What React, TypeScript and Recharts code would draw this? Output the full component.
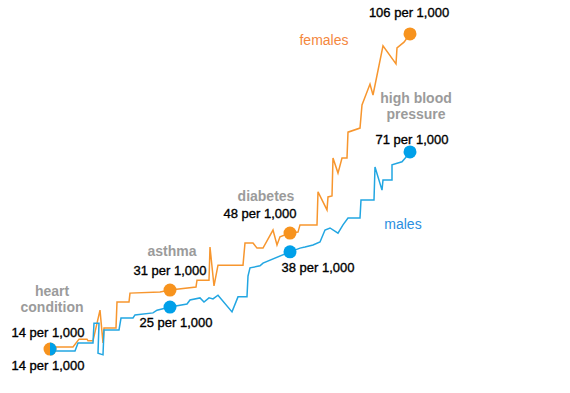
import { LineChart, Line, XAxis, YAxis } from 'recharts';

// age (years) vs rate per 1,000
const femalePath: [number, number][] = [
  [0, 13.8], [0.3, 14.4], [1.15, 14.4], [1.45, 16.7], [1.85, 16.7], [1.9, 16.2], [2.15, 16.2],
  [2.5, 25.2], [2.65, 15.6], [2.7, 20.0], [3.3, 20.0], [3.35, 27.6], [3.95, 27.6], [4.0, 30.2],
  [5.5, 30.5], [6, 31.1], [7.3, 32.0], [7.35, 34.0], [7.95, 34.0], [8.0, 43.7], [8.2, 32.3],
  [8.4, 38.4], [9.65, 38.4], [9.75, 44.9], [10.15, 44.9], [10.35, 43.4], [10.65, 43.4],
  [11.15, 48.7], [11.35, 44.3], [11.5, 46.7], [12, 47.8], [12.4, 48.1], [12.5, 50.2],
  [13.35, 50.2], [13.4, 59.9], [13.85, 54.6], [13.9, 58.4], [14.1, 58.7], [14.15, 69.8],
  [14.4, 65.4], [14.6, 69.8], [14.85, 69.8], [14.9, 77.4], [15.5, 78.6], [15.6, 85.4],
  [16.0, 91.5], [16.15, 88.3], [16.65, 102.7], [17.3, 97.4], [17.35, 102.1], [17.7, 103.8],
  [18, 106.2],
];

const malePath: [number, number][] = [
  [0, 13.8], [0.3, 13.2], [1.25, 13.2], [1.4, 15.6], [2.15, 15.6], [2.2, 21.4], [2.45, 21.4],
  [2.4, 12.6], [2.65, 12.1], [2.7, 19.4], [3.45, 19.4], [3.55, 22.9], [4.15, 22.9], [4.25, 23.8],
  [5.15, 24.4], [5.35, 25.2], [6, 26.1], [6.85, 27.0], [7.0, 28.2], [7.5, 28.8], [7.7, 27.6],
  [7.95, 28.8], [8.15, 28.5], [8.4, 29.6], [9.1, 24.7], [9.4, 29.1], [9.85, 29.1], [9.9, 35.2],
  [10.0, 37.6], [10.5, 38.2], [10.65, 39.0], [12, 42.3], [12.5, 43.4], [12.75, 43.7],
  [13.15, 44.3], [13.5, 45.2], [13.75, 48.7], [14.0, 49.3], [14.4, 47.8], [14.65, 50.2],
  [14.9, 52.2], [15.5, 52.2], [15.55, 57.5], [16.2, 57.5], [16.25, 67.2], [16.6, 60.4],
  [16.65, 63.4], [17.1, 63.4], [17.1, 67.8], [17.6, 68.7], [17.85, 70.4], [18, 71.6],
];

const conditionAges = [0, 6, 12, 18];
const conditionNames = [['heart', 'condition'], ['asthma'], ['diabetes'], ['high blood', 'pressure']];
const femaleLabels = ['14 per 1,000', '31 per 1,000', '48 per 1,000', '106 per 1,000'];
const maleLabels = ['14 per 1,000', '25 per 1,000', '38 per 1,000', '71 per 1,000'];

const femaleData = femalePath.map(([age, rate]) => ({ age, rate }));
const maleData = malePath.map(([age, rate]) => ({ age, rate }));

const ORANGE = '#F7962E';
const BLUE = '#22A6E2';
const FONT = '"Liberation Sans", Arial, sans-serif';

// label offsets from each dot: [dx, dy] of the text baseline
const femaleOffsets = [[-2, -12], [0, -15], [-30, -15], [-1, -17]];
const maleOffsets = [[-2, 21], [6, 20], [28, 20], [2, -8]];
// condition name offsets, first line; relative to female dot, last one to male dot
const nameOffsets = [[2, -53], [2, -34], [-24, -32], [6, -49]];

const numText = (x: number, y: number, t: string, k: string) => (
  <text
    key={k}
    x={x}
    y={y}
    textAnchor="middle"
    fontFamily={FONT}
    fontSize={13}
    fill="#000"
    stroke="#000"
    strokeWidth={0.35}
  >
    {t}
  </text>
);

const nameText = (x: number, y: number, lines: string[], k: string) => (
  <text key={k} textAnchor="middle" fontFamily={FONT} fontSize={14} fontWeight="bold" fill="#9b9b9b">
    {lines.map((l, i) => (
      <tspan key={i} x={x} y={y + i * 16}>{l}</tspan>
    ))}
  </text>
);

const makeDot = (series: 'f' | 'm') => (props: any) => {
  const { cx, cy, index, payload } = props;
  const i = conditionAges.indexOf(payload.age);
  if (i < 0 || cx == null) return <g key={`${series}-${index}`} />;
  const r = 6.5;
  const parts: any[] = [];
  if (series === 'f') {
    parts.push(<circle key="c" cx={cx} cy={cy} r={r} fill="#F7931E" />);
    const [dx, dy] = femaleOffsets[i];
    parts.push(numText(cx + dx, cy + dy, femaleLabels[i], 'n'));
    if (i < 3) {
      const [nx, ny] = nameOffsets[i];
      parts.push(nameText(cx + nx, cy + ny, conditionNames[i], 't'));
    }
    if (i === 3) {
      parts.push(
        <text key="s" x={cx - 86} y={cy + 11} textAnchor="middle" fontFamily={FONT} fontSize={14} fill="#F4873D">
          females
        </text>
      );
    }
  } else {
    if (i === 0) {
      parts.push(
        <path key="c" d={`M${cx},${cy - r} A${r},${r} 0 0 1 ${cx},${cy + r} Z`} fill="#00A0E9" />
      );
    } else {
      parts.push(<circle key="c" cx={cx} cy={cy} r={r} fill="#00A0E9" />);
    }
    const [dx, dy] = maleOffsets[i];
    parts.push(numText(cx + dx, cy + dy, maleLabels[i], 'n'));
    if (i === 3) {
      const [nx, ny] = nameOffsets[i];
      parts.push(nameText(cx + nx, cy + ny, conditionNames[i], 't'));
      parts.push(
        <text key="s" x={cx - 7} y={cy + 77} textAnchor="middle" fontFamily={FONT} fontSize={14} fill="#2B8FE0">
          males
        </text>
      );
    }
  }
  return <g key={`${series}-${index}`}>{parts}</g>;
};

export default function App() {
  return (
    <div style={{ position: 'absolute', left: 0, top: 0, background: '#fff' }}>
      <LineChart width={570} height={393} margin={{ top: 21, right: 160, bottom: 31, left: 50 }}>
        <XAxis type="number" dataKey="age" domain={[0, 18]} hide />
        <YAxis type="number" domain={[10, 110]} hide />
        <Line
          data={femaleData}
          dataKey="rate"
          type="linear"
          stroke={ORANGE}
          strokeWidth={1.5}
          dot={makeDot('f')}
          activeDot={false}
          isAnimationActive={false}
        />
        <Line
          data={maleData}
          dataKey="rate"
          type="linear"
          stroke={BLUE}
          strokeWidth={1.5}
          dot={makeDot('m')}
          activeDot={false}
          isAnimationActive={false}
        />
      </LineChart>
    </div>
  );
}
